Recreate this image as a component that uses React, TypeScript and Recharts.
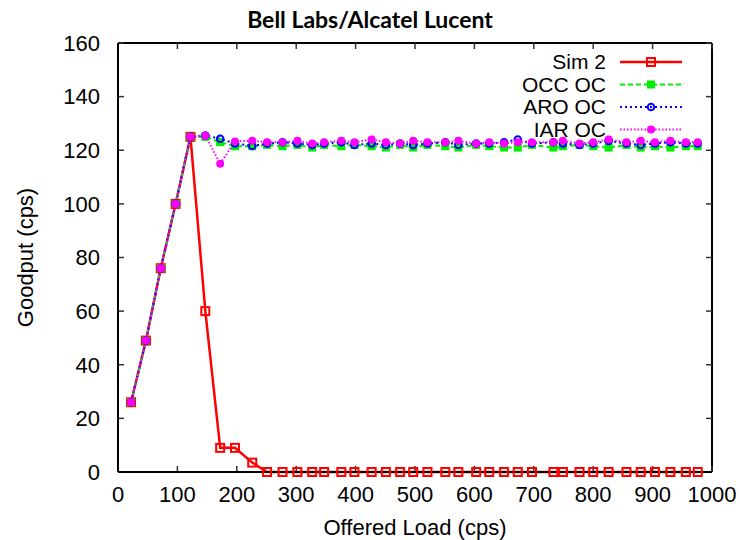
import React from "react";
import { LineChart, Line, XAxis, YAxis, Legend, Label, ReferenceLine } from "recharts";

// offered load (cps) at each measurement
const loads = [22, 47, 72, 97, 122, 147, 172, 197, 226, 251, 277, 302, 327, 347, 376, 398, 427, 451, 475, 497, 521, 551, 573, 603, 625, 650, 673, 697, 733, 749, 777, 800, 826, 856, 880, 904, 930, 956, 976];

// goodput (cps) per scheme
const sim2 = [26, 49, 76, 100, 125, 60, 9, 9, 3.5, 0, 0, 0, 0, 0, 0, 0, 0, 0, 0, 0, 0, 0, 0, 0, 0, 0, 0, 0, 0, 0, 0, 0, 0, 0, 0, 0, 0, 0, 0];
const occ = [26, 49, 76, 100, 125, 125, 123, 121.5, 121.5, 122, 121.5, 122, 121, 122, 121.5, 122, 121.5, 121, 122, 121, 122, 121.5, 121, 122, 121.5, 121, 121, 122, 121, 121.5, 122, 121.5, 121, 122, 121, 121.5, 121, 121.5, 121.5];
const aro = [26, 49, 76, 100, 125, 125.5, 124.3, 122.5, 121.6, 122.5, 123, 122.5, 122, 122.5, 123, 122, 122.5, 122, 122.5, 122, 122.5, 123, 122, 122.5, 122.5, 123, 124, 122.5, 123, 122.5, 122, 122.5, 123.5, 122.5, 122, 122.5, 123, 122.5, 122.5];
const iar = [26, 49, 76, 100, 125, 125.4, 115, 123.3, 123.5, 123, 123, 123.5, 122.5, 123, 123.5, 123, 124, 123, 122.5, 123.5, 123, 123, 123.5, 122.5, 123, 122.5, 123, 123, 123, 123.5, 122.5, 123, 124, 123, 123.5, 123, 123.5, 123, 123];

// tick positions (axis labels come from tickCount, marks from these)
const xTicks = [0, 100, 200, 300, 400, 500, 600, 700, 800, 900, 1000];
const yTicks = [0, 20, 40, 60, 80, 100, 120, 140, 160];

const rows = loads.map((load, i) => ({ load, sim2: sim2[i], occ: occ[i], aro: aro[i], iar: iar[i] }));

type Shape = "squareOpen" | "square" | "circleOpen" | "circle";

const SERIES: { key: string; name: string; color: string; dash?: string; width: number; shape: Shape }[] = [
  { key: "sim2", name: "Sim 2", color: "#ff0000", width: 2.5, shape: "squareOpen" },
  { key: "occ", name: "OCC OC", color: "#00ee00", dash: "5 3", width: 2, shape: "square" },
  { key: "aro", name: "ARO OC", color: "#0000ff", dash: "2 3", width: 2, shape: "circleOpen" },
  { key: "iar", name: "IAR OC", color: "#ff00ff", dash: "1.5 2", width: 2, shape: "circle" },
];

const FONT = "'Liberation Sans', Arial, sans-serif";
const TICK_LEN = 6;
const TICK_COLOR = "#333";

const Marker = ({ shape, color, cx, cy }: { shape: Shape; color: string; cx: number; cy: number }) => {
  if (shape === "squareOpen") return <rect x={cx - 4} y={cy - 4} width={8} height={8} fill="none" stroke={color} strokeWidth={2} />;
  if (shape === "square") return <rect x={cx - 4} y={cy - 4} width={8} height={8} fill={color} />;
  if (shape === "circleOpen") return <circle cx={cx} cy={cy} r={3.3} fill="none" stroke={color} strokeWidth={2} />;
  return <circle cx={cx} cy={cy} r={4} fill={color} />;
};

const dotFor = (s: (typeof SERIES)[number]) => (p: any) => (
  <Marker key={`${s.key}-${p.index}`} shape={s.shape} color={s.color} cx={p.cx} cy={p.cy} />
);

// key box drawn in plot order (Sim 2 first)
const KeyBox = () => (
  <svg width={200} height={95}>
    {SERIES.map((s, i) => {
      const y = 14 + i * 22.5;
      return (
        <g key={s.key}>
          <text x={106} y={y + 7} textAnchor="end" fontFamily={FONT} fontSize={21} fill="#000">{s.name}</text>
          <line x1={120} x2={182} y1={y} y2={y} stroke={s.color} strokeWidth={s.width} strokeDasharray={s.dash} />
          <Marker shape={s.shape} color={s.color} cx={151} cy={y} />
        </g>
      );
    })}
  </svg>
);

// inward ticks at both ends of a vertical reference line (bottom and top edges)
const xTickMarks = (p: any) => {
  const top = Math.min(p.y1, p.y2);
  const bottom = Math.max(p.y1, p.y2);
  return (
    <g>
      <line x1={p.x1} x2={p.x1} y1={top} y2={top + TICK_LEN} stroke={TICK_COLOR} strokeWidth={1.5} />
      <line x1={p.x1} x2={p.x1} y1={bottom} y2={bottom - TICK_LEN} stroke={TICK_COLOR} strokeWidth={1.5} />
    </g>
  );
};
// inward ticks at both ends of a horizontal reference line (left and right edges)
const yTickMarks = (p: any) => {
  const left = Math.min(p.x1, p.x2);
  const right = Math.max(p.x1, p.x2);
  return (
    <g>
      <line x1={left} x2={left + TICK_LEN} y1={p.y1} y2={p.y1} stroke={TICK_COLOR} strokeWidth={1.5} />
      <line x1={right} x2={right - TICK_LEN} y1={p.y1} y2={p.y1} stroke={TICK_COLOR} strokeWidth={1.5} />
    </g>
  );
};

const labelFont = { fontFamily: FONT, fontSize: 22, fill: "#000" };
const axisLine = { stroke: "#000", strokeWidth: 2 };

export default function App() {
  return (
    <div style={{ width: 740, height: 540, background: "#fff", position: "relative" }}>
      <style>{"body{margin:0}"}</style>
      <LineChart width={740} height={540} data={rows} margin={{ top: 43, right: 28, bottom: 38, left: 58 }}>
        <text x={370} y={28} textAnchor="middle" fontFamily="Lato, 'Open Sans', sans-serif" fontWeight="bold" fontSize={23} fill="#000">
          Bell Labs/Alcatel Lucent
        </text>
        <XAxis dataKey="load" type="number" domain={[0, 1000]} tickCount={xTicks.length} height={30}
          tick={{ ...labelFont, dy: 6 }} tickLine={false} axisLine={axisLine}>
          <Label value="Offered Load (cps)" position="insideBottom" offset={-33} style={labelFont} />
        </XAxis>
        <YAxis type="number" domain={[0, 160]} tickCount={yTicks.length} width={60}
          tick={{ ...labelFont, dx: -10 }} tickLine={false} axisLine={axisLine}>
          <Label value="Goodput (cps)" angle={-90} position="center" dx={-63} style={{ ...labelFont, textAnchor: "middle" }} />
        </YAxis>
        {/* frame: top and right border */}
        <ReferenceLine y={160} stroke="#000" strokeWidth={2} />
        <ReferenceLine x={1000} stroke="#000" strokeWidth={2} />
        {/* inward tick marks on all four sides */}
        {xTicks.map((t) => <ReferenceLine key={`tx${t}`} x={t} shape={xTickMarks} />)}
        {yTicks.map((t) => <ReferenceLine key={`ty${t}`} y={t} shape={yTickMarks} />)}
        <Legend layout="vertical" align="center" verticalAlign="middle" content={<KeyBox />}
          wrapperStyle={{ left: 500, top: 48, width: 200, height: 95 }} />
        {SERIES.map((s) => (
          <Line key={s.key} type="linear" dataKey={s.key} name={s.name} stroke={s.color} strokeWidth={s.width}
            strokeDasharray={s.dash} dot={dotFor(s)} activeDot={false} isAnimationActive={false} />
        ))}
      </LineChart>
    </div>
  );
}
